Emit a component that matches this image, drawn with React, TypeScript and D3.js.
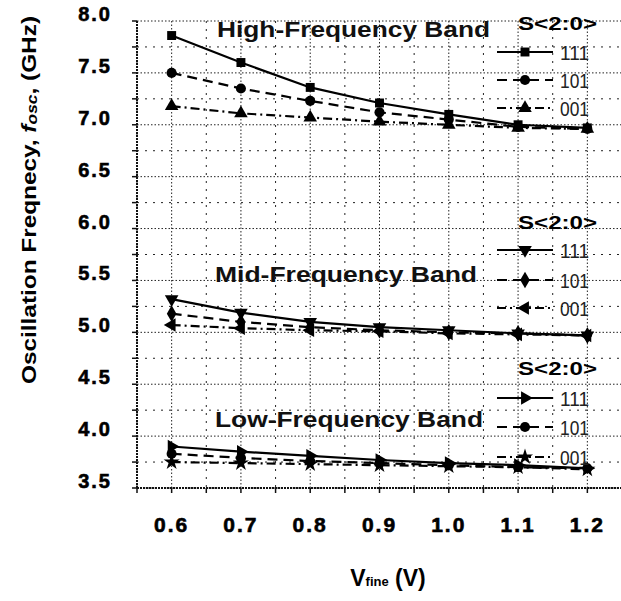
import React from "react";
import * as d3 from "d3";

// V_fine sweep (V)
const vfine = [0.6, 0.7, 0.8, 0.9, 1.0, 1.1, 1.2];

// oscillation frequency (GHz) per band and S<2:0> code
const high111 = [7.86, 7.6, 7.36, 7.21, 7.1, 7.0, 6.97];
const high101 = [7.5, 7.35, 7.23, 7.12, 7.05, 6.98, 6.96];
const high001 = [7.18, 7.11, 7.07, 7.03, 7.0, 6.97, 6.96];
const mid111 = [5.32, 5.19, 5.1, 5.05, 5.02, 4.99, 4.97];
const mid101 = [5.18, 5.1, 5.05, 5.02, 5.0, 4.99, 4.97];
const mid001 = [5.07, 5.04, 5.02, 5.01, 4.99, 4.98, 4.97];
const low111 = [3.9, 3.85, 3.81, 3.77, 3.74, 3.72, 3.69];
const low101 = [3.83, 3.79, 3.76, 3.74, 3.72, 3.7, 3.69];
const low001 = [3.75, 3.74, 3.73, 3.72, 3.71, 3.7, 3.68];

const codes = ["111", "101", "001"];
const bandNames = ["High-Frequency Band", "Mid-Frequency Band", "Low-Frequency Band"];
const xTicks = [0.6, 0.7, 0.8, 0.9, 1.0, 1.1, 1.2];
const yTicks = [3.5, 4.0, 4.5, 5.0, 5.5, 6.0, 6.5, 7.0, 7.5, 8.0];

const W = 621;
const H = 601;
const left = 137;
const top = 21;
const bottom = 488;

const x = d3.scaleLinear().domain([0.55, 1.25]).range([left, 622]);
const y = d3.scaleLinear().domain([3.5, 8.0]).range([bottom, top]);

const dashes = [null, "10,6", "9,4,2,4"];

// marker type + rotation per band / code
const markers = [
  [[d3.symbolSquare, 0], [d3.symbolCircle, 0], [d3.symbolTriangle, 0]],
  [[d3.symbolTriangle, 180], [d3.symbolDiamond, 0], [d3.symbolTriangle, -90]],
  [[d3.symbolTriangle, 90], [d3.symbolCircle, 0], [d3.symbolStar, 0]],
];

const bands = [
  [high111, high101, high001],
  [mid111, mid101, mid001],
  [low111, low101, low001],
];

// layout of the text blocks (pixels)
const titlePos = [
  { x: 217, y: 37, len: 273 },
  { x: 215, y: 282, len: 262 },
  { x: 215, y: 427, len: 268 },
];
const legendPos = [
  { x: 518, y: 30, rows: [52, 80, 108] },
  { x: 518, y: 229, rows: [250, 280, 308] },
  { x: 518, y: 375, rows: [398, 427, 457] },
];

const font = "'Liberation Sans', Arial, sans-serif";

export default function App() {
  const line = d3
    .line<number>()
    .x((_, i) => x(vfine[i]))
    .y((d) => y(d));

  const xMinor = d3.range(0.55, 1.26, 0.05);
  const yMinor = d3.range(3.5, 8.01, 0.25);

  const sym = (b: number, s: number, size = 80) =>
    d3.symbol().type(markers[b][s][0] as d3.SymbolType).size(size)() as string;

  return (
    <svg
      width={W}
      height={H}
      style={{ position: "absolute", left: 0, top: 0, background: "#fff" }}
      fontFamily={font}
    >
      {/* grid */}
      <g>
        {yMinor.map((v, i) => (
          <line
            key={"gy" + i}
            x1={left}
            x2={W}
            y1={y(v)}
            y2={y(v)}
            stroke="#222"
            strokeWidth={1}
            strokeDasharray={i % 2 === 0 ? "1.5,2" : "2,6"}
          />
        ))}
        {xMinor.map((v, i) => (
          <line
            key={"gx" + i}
            x1={x(v)}
            x2={x(v)}
            y1={top}
            y2={bottom}
            stroke="#222"
            strokeWidth={1}
            strokeDasharray={i % 2 === 1 ? "1.5,2" : "2,6"}
          />
        ))}
      </g>

      {/* axes */}
      <line x1={left} x2={left} y1={top} y2={bottom} stroke="#111" strokeWidth={2} strokeDasharray="2,1" />
      <line x1={left} x2={W} y1={bottom} y2={bottom} stroke="#111" strokeWidth={2} strokeDasharray="2,1" />
      {yMinor.map((v, i) => (
        <line key={"ty" + i} x1={left - 5} x2={left} y1={y(v)} y2={y(v)} stroke="#111" strokeWidth={1.5} />
      ))}
      {xMinor.map((v, i) => (
        <line key={"tx" + i} x1={x(v)} x2={x(v)} y1={bottom} y2={bottom + 5} stroke="#111" strokeWidth={1.5} />
      ))}

      {yTicks.map((v) => (
        <text
          key={"yl" + v}
          x={112}
          y={y(v) - 7}
          textAnchor="end"
          dominantBaseline="central"
          fontSize={20}
          fontWeight="bold"
          letterSpacing={2}
          stroke="#000"
          strokeWidth={0.6}
        >
          {v.toFixed(1)}
        </text>
      ))}
      {xTicks.map((v) => (
        <text
          key={"xl" + v}
          x={x(v)}
          y={524}
          textAnchor="middle"
          dominantBaseline="central"
          fontSize={21}
          fontWeight="bold"
          letterSpacing={2}
          stroke="#000"
          strokeWidth={0.6}
        >
          {v.toFixed(1)}
        </text>
      ))}

      {/* axis titles */}
      <text
        transform="translate(28,200) rotate(-90)"
        textAnchor="middle"
        dominantBaseline="central"
        fontSize={21}
        fontWeight="bold"
        textLength={368}
        lengthAdjust="spacingAndGlyphs"
      >
        Oscillation Freqnecy, <tspan fontStyle="italic">f</tspan>
        <tspan fontStyle="italic" fontSize={15} dy={3}>osc</tspan>
        <tspan dy={-3}>, (GHz)</tspan>
      </text>
      <text x={388} y={578} textAnchor="middle" dominantBaseline="central" fontSize={23} fontWeight="bold">
        V<tspan fontSize={13} dy={3}>fine</tspan>
        <tspan dy={-3}> (V)</tspan>
      </text>

      {/* series */}
      {bands.map((series, b) => (
        <g key={"band" + b}>
          {series.map((vals, s) => (
            <g key={"s" + s}>
              <path
                d={line(vals) as string}
                fill="none"
                stroke="#000"
                strokeWidth={2.2}
                strokeDasharray={dashes[s] ?? undefined}
              />
              {vals.map((v, i) => (
                <path
                  key={i}
                  d={sym(b, s)}
                  transform={`translate(${x(vfine[i])},${y(v)}) rotate(${markers[b][s][1]})`}
                  fill="#000"
                />
              ))}
            </g>
          ))}
        </g>
      ))}

      {/* band titles */}
      {bandNames.map((name, b) => (
        <text
          key={name}
          x={titlePos[b].x}
          y={titlePos[b].y}
          fontSize={22}
          fontWeight="bold"
          textLength={titlePos[b].len}
          lengthAdjust="spacingAndGlyphs"
          fill="#111"
        >
          {name}
        </text>
      ))}

      {/* legends */}
      {legendPos.map((lp, b) => (
        <g key={"lg" + b}>
          <text x={lp.x} y={lp.y} fontSize={19} fontWeight="bold" textLength={79} lengthAdjust="spacingAndGlyphs">
            S&lt;2:0&gt;
          </text>
          {codes.map((c, s) => (
            <g key={c}>
              <line
                x1={497}
                x2={553}
                y1={lp.rows[s]}
                y2={lp.rows[s]}
                stroke="#000"
                strokeWidth={2.2}
                strokeDasharray={dashes[s] ?? undefined}
              />
              <path
                d={sym(b, s)}
                transform={`translate(525,${lp.rows[s]}) rotate(${markers[b][s][1]})`}
                fill="#000"
              />
              <text
                x={560}
                y={lp.rows[s]}
                dominantBaseline="central"
                fontSize={21}
                fill="#222"
                textLength={29}
                lengthAdjust="spacingAndGlyphs"
              >
                {c}
              </text>
            </g>
          ))}
        </g>
      ))}
    </svg>
  );
}
